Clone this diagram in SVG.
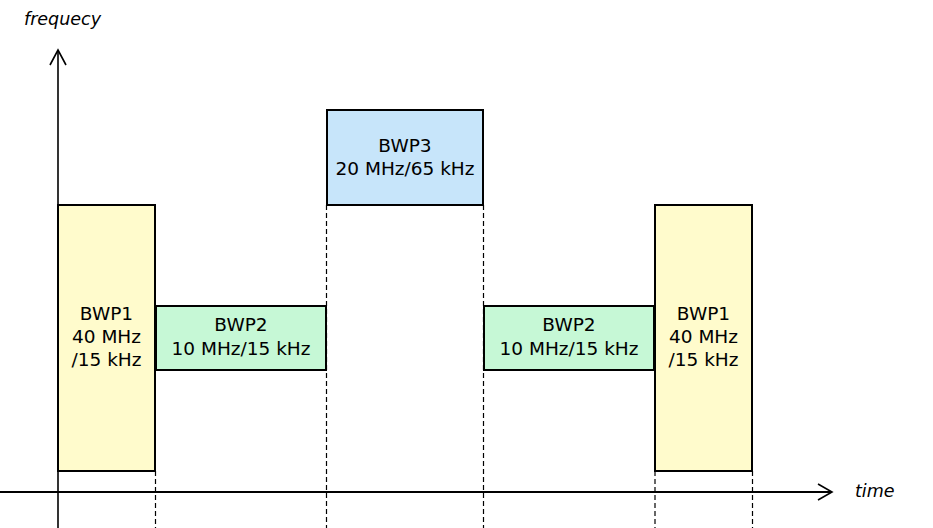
<svg xmlns="http://www.w3.org/2000/svg" width="933" height="528" viewBox="0 0 933 528">
<style>
.box{stroke:#000;stroke-width:2}
.y{fill:#FFFBCC}.g{fill:#C6F8D6}.b{fill:#C7E5FA}
.t{font-family:"DejaVu Sans","Noto Sans",sans-serif;font-size:18.5px;fill:#000;text-anchor:middle}
.ax{font-family:"DejaVu Sans","Noto Sans",sans-serif;font-size:17.5px;font-style:italic;fill:#000}
.d{stroke:#000;stroke-width:1.2;stroke-dasharray:5,3;fill:none}
.a{stroke:#000;fill:none}
</style>
<rect width="933" height="528" fill="#fff"/>
<g id="connectors">
<line class="d" x1="155.5" y1="471" x2="155.5" y2="528"/>
<line class="d" x1="326.5" y1="205" x2="326.5" y2="528"/>
<line class="d" x1="483.5" y1="205" x2="483.5" y2="528"/>
<line class="d" x1="655" y1="471" x2="655" y2="528"/>
<line class="d" x1="752.5" y1="471" x2="752.5" y2="528"/>
</g>
<g id="axes">
<line class="a" x1="58" y1="51" x2="58" y2="528" stroke-width="1.6"/>
<polyline class="a" points="50,65 58,50 66,65" stroke-width="1.6"/>
<line class="a" x1="0" y1="492" x2="831" y2="492" stroke-width="2"/>
<polyline class="a" points="818,484 832,492 818,500" stroke-width="1.6"/>
<text class="ax" x="24" y="25">frequecy</text>
<text class="ax" x="855" y="497">time</text>
</g>
<g id="bwp1a">
<rect class="box y" x="58" y="205" width="97" height="266"/>
<text class="t" x="106.5" y="320">BWP1</text>
<text class="t" x="106.5" y="343">40 MHz</text>
<text class="t" x="106.5" y="366">/15 kHz</text>
</g>
<g id="bwp2a">
<rect class="box g" x="156" y="306" width="170" height="64"/>
<text class="t" x="241" y="331">BWP2</text>
<text class="t" x="241" y="355">10 MHz/15 kHz</text>
</g>
<g id="bwp3">
<rect class="box b" x="327" y="110" width="156" height="95"/>
<text class="t" x="405" y="152">BWP3</text>
<text class="t" x="405" y="175">20 MHz/65 kHz</text>
</g>
<g id="bwp2b">
<rect class="box g" x="484" y="306" width="170" height="64"/>
<text class="t" x="569" y="331">BWP2</text>
<text class="t" x="569" y="355">10 MHz/15 kHz</text>
</g>
<g id="bwp1b">
<rect class="box y" x="655" y="205" width="97" height="266"/>
<text class="t" x="703.5" y="320">BWP1</text>
<text class="t" x="703.5" y="343">40 MHz</text>
<text class="t" x="703.5" y="366">/15 kHz</text>
</g>
</svg>
